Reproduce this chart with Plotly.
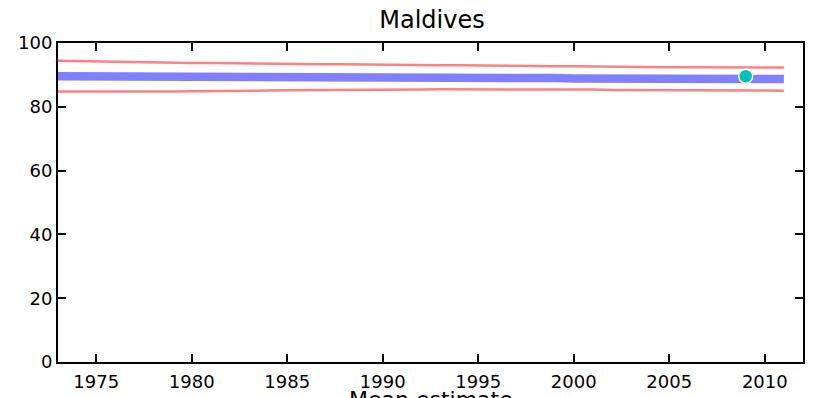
import plotly.graph_objects as go

years = list(range(1973, 2012))
estimate = [89.6, 89.6, 89.6, 89.5, 89.5, 89.5, 89.5, 89.4, 89.4, 89.4, 89.4, 89.3, 89.3, 89.3,
            89.3, 89.2, 89.2, 89.2, 89.2, 89.1, 89.1, 89.1, 89.1, 89.0, 89.0, 89.0, 89.0, 88.9,
            88.9, 88.9, 88.9, 88.8, 88.8, 88.8, 88.8, 88.7, 88.7, 88.7, 88.7]
upper = [94.4, 94.3, 94.0, 94.0, 93.9, 93.9, 93.8, 93.7, 93.7, 93.6, 93.6, 93.5, 93.4, 93.4,
         93.3, 93.3, 93.2, 93.2, 93.1, 93.1, 93.0, 93.0, 92.9, 92.9, 92.8, 92.8, 92.7, 92.7,
         92.6, 92.6, 92.5, 92.5, 92.4, 92.4, 92.4, 92.5, 92.4, 92.3, 92.3]
lower = [84.8, 84.8, 84.6, 84.7, 84.7, 84.8, 84.8, 84.9, 84.9, 85.0, 85.1, 85.1, 85.2, 85.2,
         85.3, 85.3, 85.4, 85.4, 85.4, 85.4, 85.5, 85.5, 85.6, 85.6, 85.5, 85.5, 85.5, 85.4,
         85.4, 85.3, 85.3, 85.3, 85.2, 85.2, 85.2, 85.2, 85.1, 85.1, 85.0]
obs_years = [2009]
obs_values = [89.6]

x_ticks = [1975, 1980, 1985, 1990, 1995, 2000, 2005, 2010]
y_ticks = [0, 20, 40, 60, 80, 100]

fig = go.Figure()
fig.add_trace(go.Scatter(x=years, y=upper, mode="lines",
                         line=dict(color="#FF8080", width=2.5), showlegend=False))
fig.add_trace(go.Scatter(x=years, y=lower, mode="lines",
                         line=dict(color="#FF8080", width=2.5), showlegend=False))
fig.add_trace(go.Scatter(x=years, y=estimate, mode="lines",
                         line=dict(color="#8080FF", width=8.5), showlegend=False))
fig.add_trace(go.Scatter(x=obs_years, y=obs_values, mode="markers",
                         marker=dict(color="#00BFBF", size=14, line=dict(color="white", width=1.5)),
                         showlegend=False))

font = dict(family="DejaVu Sans", size=18, color="black")
W, H = 813, 398
fig.update_layout(
    width=W, height=H,
    margin=dict(l=58, r=10, t=43, b=36),
    paper_bgcolor="white", plot_bgcolor="white",
    font=font,
    title=dict(text="Maldives", x=432 / W, xanchor="center", y=1 - 20 / H, yanchor="middle",
               font=dict(family="DejaVu Sans", size=24, color="black")),
    xaxis=dict(range=[1973, 2012], tickvals=x_ticks, ticks="inside", ticklen=8, tickwidth=1.5,
               tickcolor="black", showline=True, linecolor="black", linewidth=2, mirror="allticks",
               showgrid=False, zeroline=False, tickfont=font, ticklabelstandoff=2,
               automargin=False),
    yaxis=dict(range=[0, 100], tickvals=y_ticks, ticks="inside", ticklen=8, tickwidth=1.5,
               tickcolor="black", showline=True, linecolor="black", linewidth=2, mirror="allticks",
               showgrid=False, zeroline=False, tickfont=font, automargin=False),
    annotations=[dict(text="Mean estimate", xref="paper", yref="paper", x=0.5, y=-22.5 / 319,
                      xanchor="center", yanchor="top", showarrow=False,
                      font=dict(family="DejaVu Sans", size=22, color="black"))],
)

fig.write_html("out.html", config={"displayModeBar": False},
               post_script="document.body.style.margin='0';document.body.style.overflow='hidden';")
